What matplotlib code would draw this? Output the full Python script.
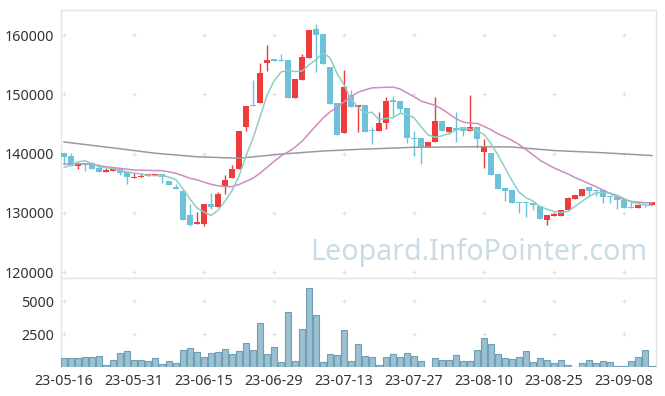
import matplotlib
matplotlib.use("Agg")
import matplotlib.pyplot as plt
import numpy as np
import pandas as pd

plt.rcParams['font.family'] = ['Noto Sans', 'DejaVu Sans']

# daily candles, 2023-05-16 .. 2023-09-14 (85 trading days)
opens = [140030, 139630, 137890, 138450, 138350, 137500, 136930, 137100, 137430, 136880,
         135920, 135980, 136250, 136320, 136540, 135360, 134400, 133670, 129620, 128150,
         128150, 131480, 131020, 134520, 135920, 137430, 144520, 148190, 148580, 155330,
         155950, 155780, 155780, 149420, 152460, 156170, 161020, 160170, 154600, 148520,
         143510, 149860, 147900, 148190, 143910, 143850, 145100, 149030, 148860, 147630,
         142670, 142570, 141150, 141990, 145490, 143680, 144250, 144420, 143850, 144420,
         140300, 140030, 136540, 134230, 133840, 131760, 131760, 131650, 131140, 128770,
         129510, 129510, 130460, 132370, 132880, 134290, 133840, 133840, 132830, 132660,
         132150, 131030, 130850, 131530, 131310]
highs = [140030, 140030, 138400, 138450, 138500, 137900, 137500, 137650, 137430, 136880,
         136650, 136650, 136480, 136540, 136540, 135360, 134850, 134000, 131420, 130180,
         131480, 133330, 133450, 136420, 138060, 143800, 148020, 152410, 155230, 158310,
         155950, 156800, 155780, 152580, 156800, 160850, 161860, 160170, 154600, 148520,
         154090, 150720, 148190, 148190, 144520, 146950, 149590, 149760, 148860, 147630,
         143850, 142570, 141990, 149490, 145490, 144420, 146950, 144420, 149870, 144420,
         142400, 140030, 136540, 134230, 133840, 131760, 131760, 131650, 131140, 129620,
         129900, 130460, 132710, 133000, 133960, 134290, 133840, 133840, 132830, 132660,
         132490, 131810, 131250, 131530, 131810]
lows = [138060, 137940, 137430, 137000, 137430, 136930, 136930, 137100, 136420, 134800,
        135920, 135980, 136250, 136320, 135070, 134730, 134010, 128770, 127820, 128100,
        127820, 130580, 131020, 133160, 135920, 137430, 143800, 148020, 148580, 153930,
        155670, 155670, 149420, 149420, 152460, 156170, 153710, 155160, 148410, 143120,
        143510, 147900, 143580, 143680, 141600, 143850, 144080, 146210, 146790, 141720,
        139630, 138230, 141150, 141990, 143800, 143290, 141890, 143000, 143850, 140880,
        137500, 136370, 134010, 132030, 131700, 129910, 129230, 130460, 128890, 127930,
        129510, 129510, 130460, 132370, 132880, 132830, 132830, 131700, 131700, 130580,
        130850, 130850, 130850, 131030, 131310]
closes = [139460, 137940, 138400, 138110, 137430, 136930, 137210, 137550, 136760, 135980,
          136090, 136250, 136480, 136540, 136090, 134730, 134010, 128770, 127930, 128490,
          131480, 131020, 133160, 135580, 137380, 143800, 148020, 148020, 153640, 155780,
          155670, 155670, 149420, 152580, 156290, 160850, 160000, 155160, 148410, 143120,
          151280, 147900, 148190, 143680, 143750, 145100, 148860, 148740, 147560, 142570,
          142500, 141150, 141990, 145490, 143800, 144420, 143970, 143850, 144420, 142500,
          141270, 136370, 134010, 133720, 131700, 131590, 131590, 131310, 128890, 129620,
          129730, 130460, 132540, 133000, 133960, 133670, 133670, 132710, 132660, 132150,
          130850, 130850, 131250, 131420, 131810]
volumes = [700, 700, 700, 775, 775, 850, 175, 550, 1075, 1225,
           550, 550, 475, 700, 250, 475, 325, 1300, 1450, 1150,
           775, 1075, 1150, 1375, 1000, 1225, 1825, 1300, 3325, 1000,
           1525, 400, 4150, 475, 2875, 6025, 3925, 400, 1000, 925,
           2800, 475, 1750, 850, 775, 175, 775, 1000, 775, 1075,
           850, 475, 25, 700, 550, 550, 925, 475, 475, 1300,
           2200, 1750, 1000, 700, 625, 775, 1225, 400, 700, 550,
           325, 550, 175, 25, 325, 550, 325, 475, 400, 100,
           100, 475, 775, 1300, 100]

# moving averages before a full window is available
ma5_head = [137600, 138060, 138570, 138780]
ma20_head = [138230, 138250, 138280, 138230, 138180, 137980, 137770, 137630, 137500, 137350,
             137210, 137180, 137160, 137130, 137100, 136900, 136660, 136250, 135810]
# long moving average, sampled
ma_long_idx = [0, 8, 13, 19, 25, 31, 37, 42, 50, 60, 64, 70, 77, 84]
ma_long_val = [141950, 140800, 140050, 139450, 139200, 139900, 140420, 140700, 141050,
               141150, 141100, 140500, 140130, 139650]

tick_idx = [0, 10, 20, 30, 40, 50, 60, 70, 80]
tick_labels = ['23-05-16', '23-05-31', '23-06-15', '23-06-29', '23-07-13',
               '23-07-27', '23-08-10', '23-08-25', '23-09-08']
price_ticks = [120000, 130000, 140000, 150000, 160000]
vol_ticks = [2500, 5000]

UP = '#ee3b3b'
DOWN = '#6cc3d9'
SPINE = '#e4e4e4'
TXT = '#333333'

c = pd.Series(closes, dtype=float)
ma5 = c.rolling(5).mean().values
ma5[:4] = ma5_head
ma20 = c.rolling(20).mean().values
ma20[:19] = ma20_head

o = np.array(opens); h = np.array(highs); l = np.array(lows); cl = np.array(closes)
x = np.arange(len(closes))
up = cl >= o
cols = np.where(up, UP, DOWN)

fig = plt.figure(figsize=(6.65, 3.96), dpi=100)
ax = fig.add_axes([61/665, 1-278/396, 595/665, 268/396])
axv = fig.add_axes([61/665, 1-367/396, 595/665, 89/396])

# candles
ax.vlines(x, l, h, colors=cols, linewidth=1.0, zorder=2)
body_lo = np.minimum(o, cl)
body_h = np.maximum(np.abs(cl - o), 120)
ax.bar(x, body_h, bottom=body_lo, width=0.72, color=cols, linewidth=0, zorder=3)

ax.plot(ma_long_idx, ma_long_val, color='#9a9a9a', lw=1.1, zorder=4)
ax.plot(x, ma20, color='#cc8cc4', lw=1.1, zorder=4)
ax.plot(x, ma5, color='#8ccfc3', lw=1.1, zorder=4)

ax.text(0.985, 0.04, 'Leopard.InfoPointer.com', transform=ax.transAxes,
        ha='right', va='bottom', fontsize=20.6, color='#c8dbe6', zorder=1)

ax.set_xlim(-0.43, 84.57)
ax.set_ylim(118990, 164220)
ax.set_yticks(price_ticks)
ax.set_yticklabels([str(v) for v in price_ticks])
ax.set_xticks(tick_idx)
ax.set_xticklabels([])

# volume
axv.bar(x, volumes, width=0.9, color='#9bc0d0', edgecolor='#6f9fb6', linewidth=0.8, zorder=3)
axv.set_xlim(-0.43, 84.57)
axv.set_ylim(0, 6750)
axv.set_yticks(vol_ticks)
axv.set_yticklabels([str(v) for v in vol_ticks])
axv.set_xticks(tick_idx)
axv.set_xticklabels(tick_labels)

for a, yt in ((ax, price_ticks), (axv, vol_ticks)):
    gx, gy = np.meshgrid(tick_idx, yt)
    a.scatter(gx.ravel(), gy.ravel(), marker='+', s=12, color='#e0e0e0', linewidths=0.8, zorder=1)
    a.tick_params(length=0, labelsize=10.3, colors=TXT, pad=5)
    for s in a.spines.values():
        s.set_color(SPINE)
        s.set_linewidth(1.0)
axv.spines['bottom'].set_visible(False)
axv.tick_params(axis='x', pad=5)

fig.savefig('out.png', dpi=100)
